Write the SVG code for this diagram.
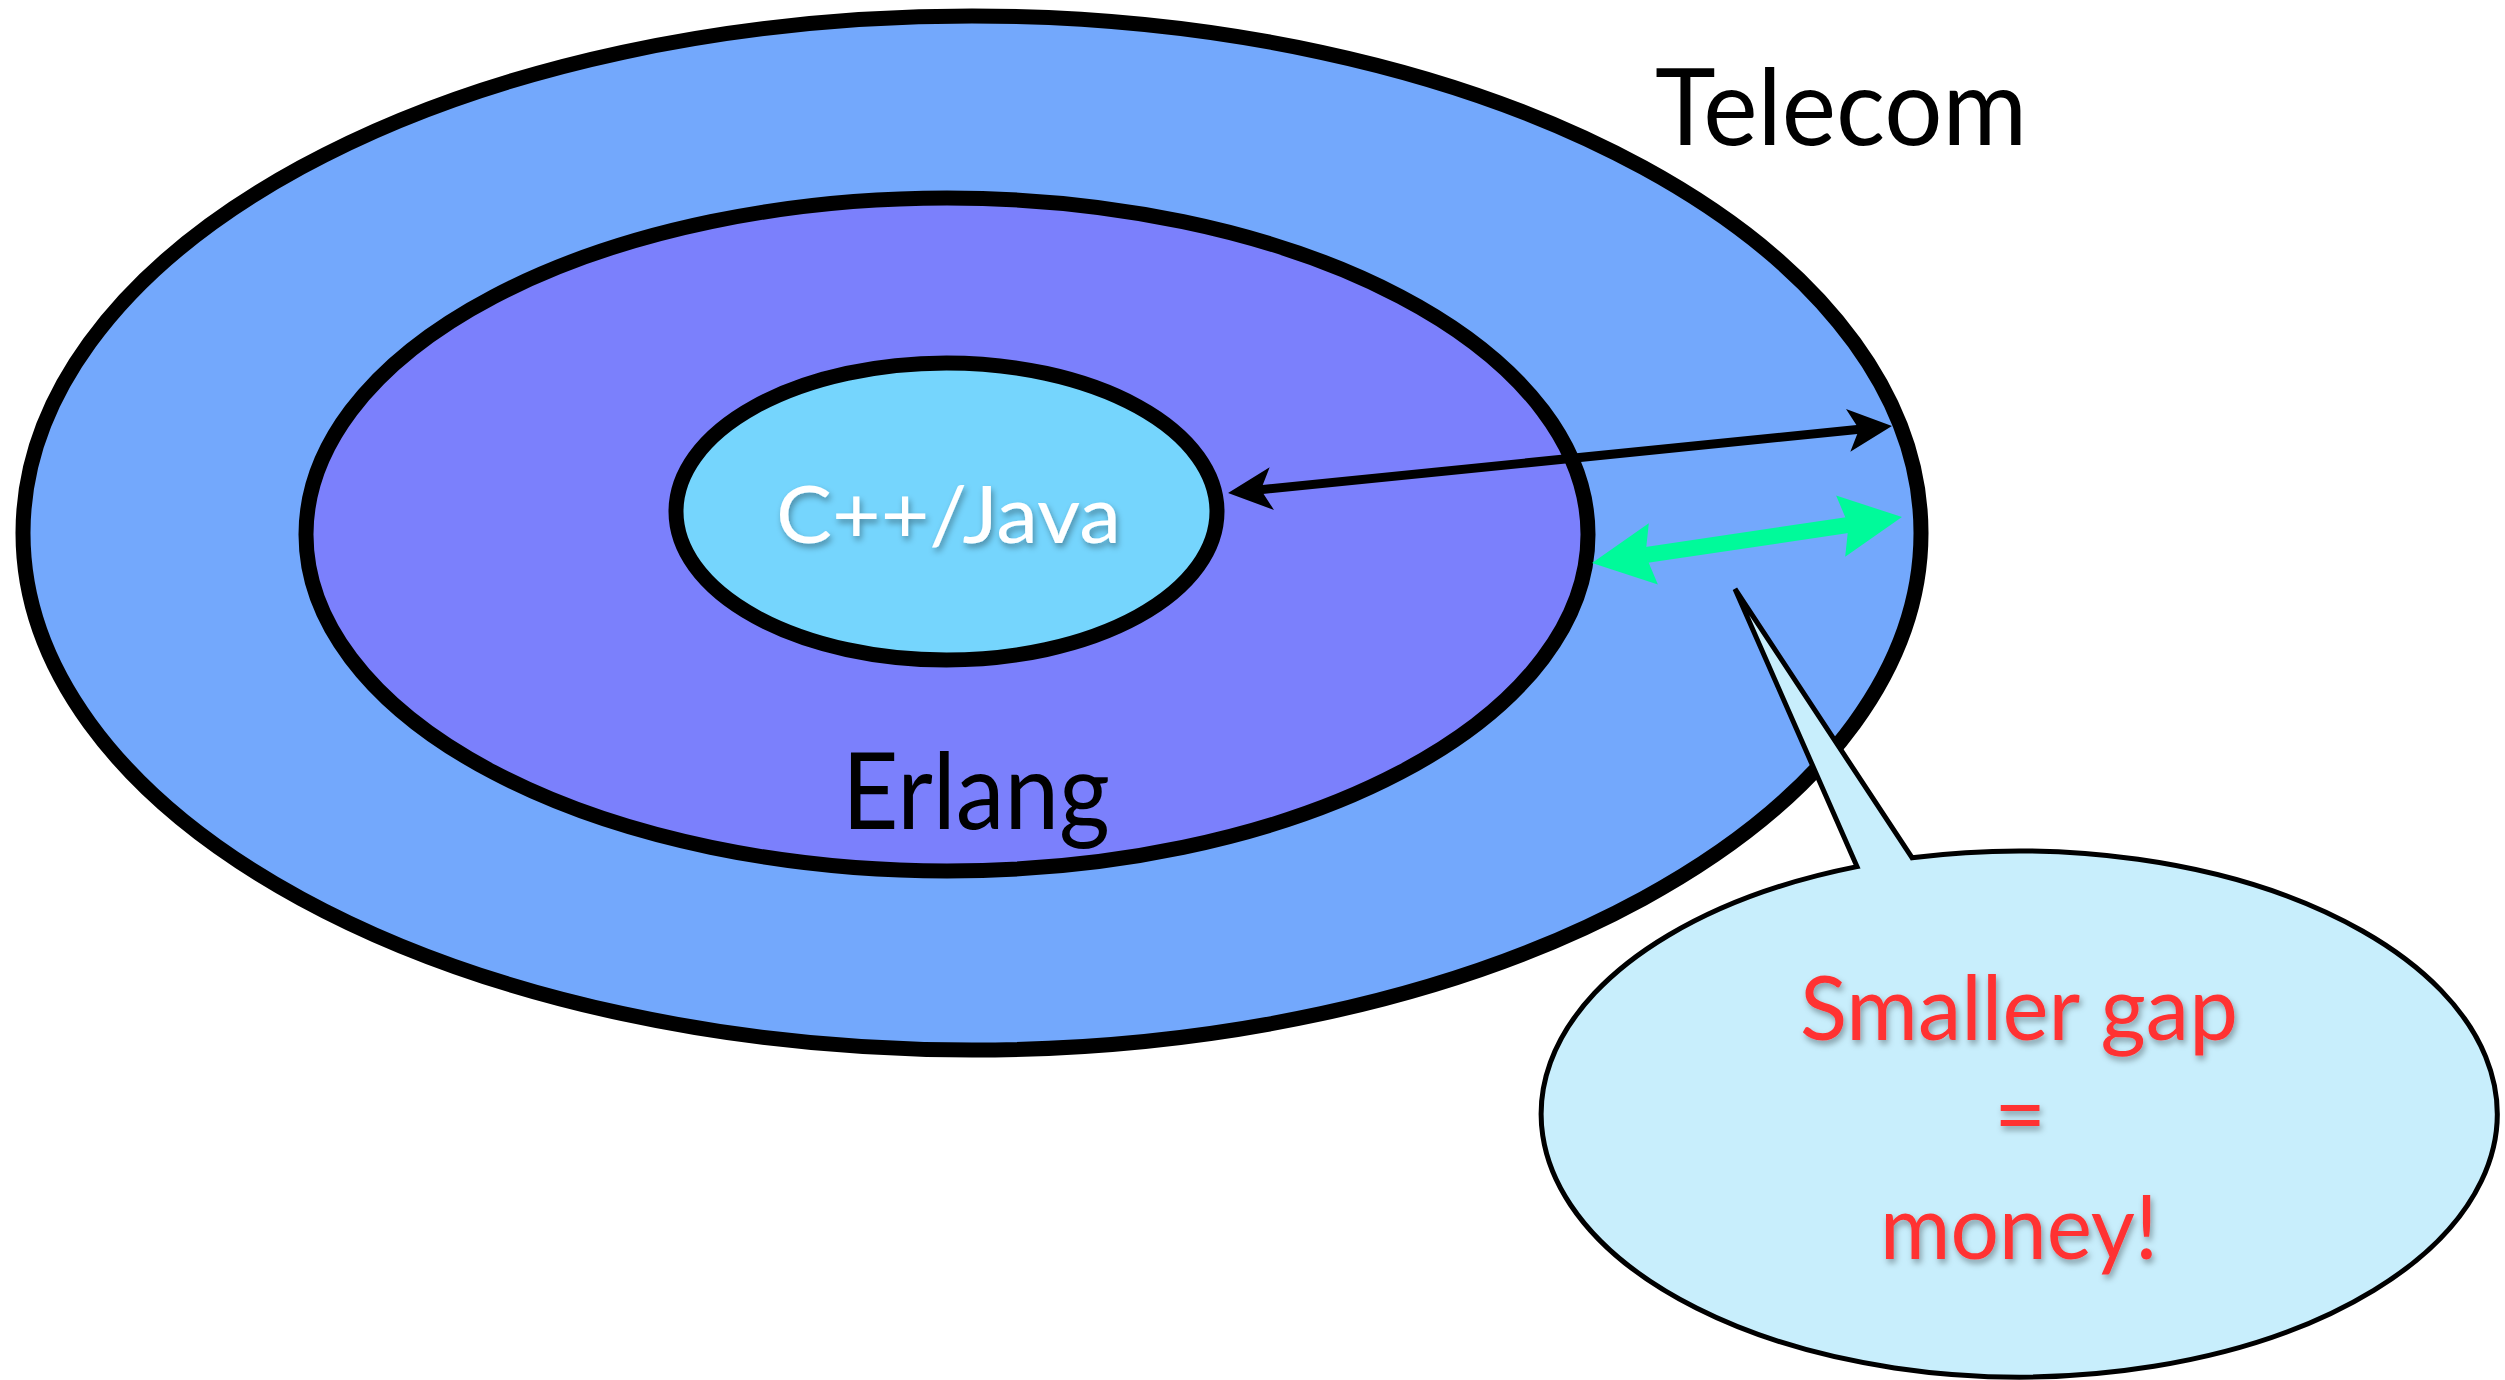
<svg xmlns="http://www.w3.org/2000/svg" width="2505" height="1380" viewBox="0 0 2505 1380">
  <defs>
    <style>
      .ring { stroke: #000; stroke-width: 15; }
      .label { font-family: Lato, "Open Sans", "Liberation Sans", sans-serif; }
      .dark { fill: #000; }
      .white { fill: #fff; }
      .red { fill: #FF3333; }
    </style>
    <filter id="shadow" x="-10%" y="-20%" width="120%" height="150%">
      <feDropShadow dx="2" dy="4" stdDeviation="3" flood-color="#000" flood-opacity="0.35"/>
    </filter>
    <marker id="headBlack" markerUnits="userSpaceOnUse" orient="auto-start-reverse" refX="0" refY="0" markerWidth="60" markerHeight="60" viewBox="-20 -30 60 60" overflow="visible">
      <path d="M30,0 L-14,-21.5 L-3,0 L-14,21.5 Z" fill="#000"/>
    </marker>
    <marker id="headGreen" markerUnits="userSpaceOnUse" orient="auto-start-reverse" refX="0" refY="0" markerWidth="80" markerHeight="80" viewBox="-30 -40 80 80" overflow="visible">
      <path d="M40,0 L-22,-31 L-14,0 L-22,31 Z" fill="#00FA9A"/>
    </marker>
  </defs>

  <rect width="2505" height="1380" fill="#fff"/>

  <g id="telecom">
    <ellipse class="ring" cx="972" cy="533" rx="949" ry="517" fill="#73A8FC"/>
    <text class="label dark" x="1655" y="145" font-size="107" textLength="372" lengthAdjust="spacingAndGlyphs">Telecom</text>
  </g>

  <g id="erlang">
    <ellipse class="ring" cx="947" cy="534.5" rx="641" ry="336.5" fill="#7B80FC"/>
    <text class="label dark" x="842" y="829" font-size="107" textLength="268" lengthAdjust="spacingAndGlyphs">Erlang</text>
  </g>

  <g id="cppjava">
    <ellipse class="ring" cx="946.5" cy="511.5" rx="270.5" ry="148.5" fill="#75D5FD"/>
    <text class="label white" x="776" y="543" font-size="80" textLength="345" lengthAdjust="spacingAndGlyphs" filter="url(#shadow)">C++/Java</text>
  </g>

  <g id="connectors">
    <line x1="1257.9" y1="490" x2="1862.1" y2="429" stroke="#000" stroke-width="9" marker-start="url(#headBlack)" marker-end="url(#headBlack)"/>
    <line x1="1631.6" y1="557.1" x2="1862.4" y2="522.9" stroke="#00FA9A" stroke-width="16" marker-start="url(#headGreen)" marker-end="url(#headGreen)"/>
  </g>

  <g id="bubble">
    <path d="M1912,857.7 L1735,589 L1857,866.6 A478,263 0 1 0 1912,857.7 Z" fill="#C8EEFC" stroke="#000" stroke-width="5" stroke-linejoin="miter" stroke-miterlimit="4"/>
    <g class="label red" font-size="90" text-anchor="middle" filter="url(#shadow)">
      <text x="2019" y="1040" textLength="438" lengthAdjust="spacingAndGlyphs">Smaller gap</text>
      <text x="2020" y="1146">=</text>
      <text x="2019" y="1259" textLength="278" lengthAdjust="spacingAndGlyphs">money!</text>
    </g>
  </g>
</svg>
